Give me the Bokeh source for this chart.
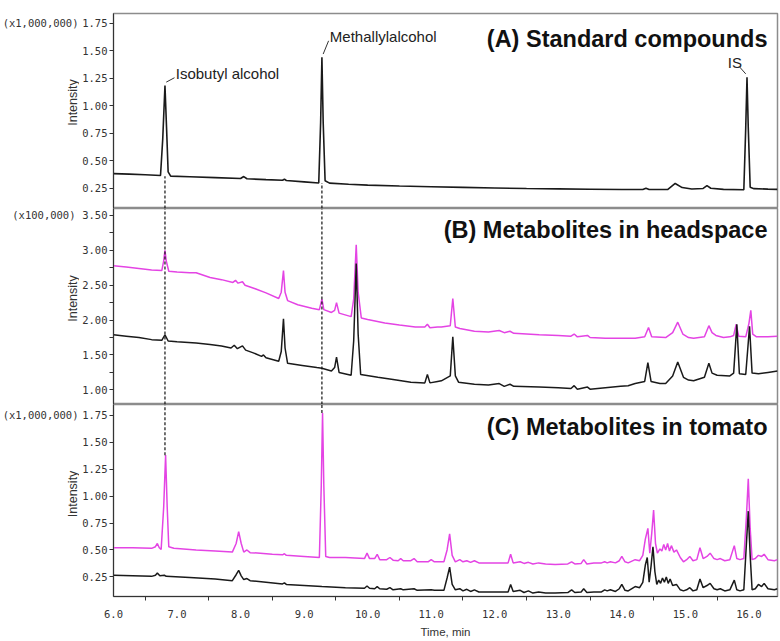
from bokeh.plotting import figure
from bokeh.layouts import column, row
from bokeh.models import Range1d, FixedTicker, PrintfTickFormatter, Label
from bokeh.core.properties import value
from bokeh.embed import file_html
from bokeh.resources import INLINE
import math

# ---------------- data ----------------
# Panel A: standard compounds (x1,000,000)
a_time = [6.00, 6.25, 6.50, 6.74, 6.775, 6.81, 6.835, 6.86, 6.90, 7.20, 7.60, 8.00, 8.05, 8.10,
          8.40, 8.66, 8.69, 8.72, 9.00, 9.23, 9.26, 9.28, 9.30, 9.33, 9.40, 9.70, 10.0, 10.5,
          11.0, 11.5, 12.0, 12.5, 13.0, 13.5, 14.0, 14.33, 14.38, 14.43, 14.72, 14.84, 14.95,
          15.10, 15.28, 15.34, 15.40, 15.60, 15.92, 15.95, 15.97, 15.99, 16.02, 16.08, 16.30, 16.45]
a_int = [0.385, 0.380, 0.374, 0.368, 0.70, 1.185, 0.80, 0.40, 0.362, 0.356, 0.348, 0.340, 0.358, 0.338,
         0.330, 0.324, 0.334, 0.322, 0.310, 0.300, 0.85, 1.44, 0.85, 0.32, 0.298, 0.288, 0.280, 0.272,
         0.266, 0.260, 0.254, 0.249, 0.246, 0.243, 0.240, 0.240, 0.252, 0.240, 0.240, 0.295, 0.258,
         0.245, 0.250, 0.275, 0.252, 0.242, 0.238, 0.80, 1.26, 0.80, 0.26, 0.248, 0.244, 0.242]

# Panel B: metabolites in headspace (x100,000)
b_mag_time = [6.00, 6.20, 6.40, 6.60, 6.76, 6.79, 6.81, 6.83, 6.87, 7.00, 7.20, 7.30, 7.52, 7.70,
              7.88, 7.92, 7.96, 8.03, 8.07, 8.23, 8.40, 8.60, 8.64, 8.675, 8.70, 8.74, 8.90, 9.12,
              9.24, 9.28, 9.31, 9.43, 9.48, 9.51, 9.55, 9.74, 9.78, 9.82, 9.85, 9.90, 10.0, 10.27,
              10.50, 10.75, 10.90, 10.94, 10.98, 11.10, 11.16, 11.30, 11.34, 11.38, 11.45, 11.68,
              11.90, 12.07, 12.15, 12.24, 12.30, 12.70, 13.00, 13.20, 13.25, 13.30, 13.46, 13.50,
              13.74, 14.00, 14.21, 14.36, 14.42, 14.47, 14.69, 14.80, 14.88, 14.96, 15.05, 15.13,
              15.30, 15.37, 15.42, 15.48, 15.60, 15.70, 15.76, 15.80, 15.84, 15.95, 16.00, 16.03,
              16.06, 16.12, 16.30, 16.45]
b_mag_int = [2.78, 2.76, 2.74, 2.72, 2.71, 2.85, 3.00, 2.85, 2.70, 2.69, 2.68, 2.68, 2.61, 2.58,
             2.54, 2.57, 2.53, 2.55, 2.50, 2.45, 2.39, 2.31, 2.40, 2.71, 2.40, 2.28, 2.22, 2.17,
             2.15, 2.30, 2.15, 2.11, 2.14, 2.25, 2.10, 2.05, 2.30, 3.08, 2.40, 2.03, 2.01, 1.96,
             1.93, 1.90, 1.90, 1.94, 1.89, 1.90, 1.90, 1.92, 2.31, 1.90, 1.88, 1.84,
             1.83, 1.85, 1.82, 1.84, 1.81, 1.79, 1.78, 1.77, 1.80, 1.76, 1.78, 1.75,
             1.74, 1.74, 1.74, 1.76, 1.895, 1.76, 1.75, 1.82, 1.97, 1.80, 1.75, 1.74,
             1.76, 1.92, 1.82, 1.78, 1.75, 1.76, 1.78, 1.94, 1.77, 1.76, 1.95, 2.14,
             1.80, 1.76, 1.76, 1.77]
b_blk_time = [6.00, 6.20, 6.40, 6.60, 6.76, 6.81, 6.86, 7.00, 7.30, 7.52, 7.70, 7.85, 7.90, 7.95,
              8.03, 8.08, 8.20, 8.33, 8.36, 8.40, 8.60, 8.64, 8.675, 8.70, 8.74, 8.97, 9.20, 9.28,
              9.43, 9.48, 9.51, 9.55, 9.74, 9.78, 9.82, 9.85, 9.89, 10.16, 10.40, 10.68, 10.90,
              10.94, 10.98, 11.10, 11.16, 11.30, 11.34, 11.38, 11.43, 11.68, 11.90, 12.07, 12.15,
              12.24, 12.30, 12.70, 13.00, 13.20, 13.25, 13.30, 13.46, 13.50, 13.74, 13.98, 14.10,
              14.21, 14.36, 14.41, 14.46, 14.60, 14.69, 14.80, 14.88, 14.97, 15.05, 15.13, 15.30,
              15.37, 15.42, 15.50, 15.70, 15.76, 15.81, 15.85, 15.95, 16.01, 16.05, 16.15, 16.30, 16.45]
b_blk_int = [1.79, 1.77, 1.75, 1.72, 1.71, 1.79, 1.70, 1.69, 1.67, 1.65, 1.63, 1.60, 1.64, 1.59,
             1.63, 1.57, 1.53, 1.48, 1.50, 1.46, 1.41, 1.55, 2.02, 1.60, 1.38, 1.35, 1.32, 1.31,
             1.27, 1.32, 1.47, 1.25, 1.21, 1.70, 2.81, 1.80, 1.22, 1.18, 1.15, 1.11, 1.10,
             1.22, 1.10, 1.12, 1.13, 1.20, 1.76, 1.20, 1.11, 1.08, 1.07, 1.09, 1.05,
             1.08, 1.05, 1.04, 1.03, 1.02, 1.06, 1.01, 1.04, 1.01, 1.03, 1.05, 1.06,
             1.09, 1.12, 1.39, 1.12, 1.09, 1.09, 1.20, 1.40, 1.18, 1.14, 1.13, 1.18,
             1.38, 1.24, 1.21, 1.20, 1.24, 1.94, 1.23, 1.22, 1.91, 1.24, 1.23, 1.25, 1.27]

# Panel C: metabolites in tomato (x1,000,000)
c_mag_time = [6.00, 6.30, 6.60, 6.66, 6.69, 6.72, 6.75, 6.79, 6.82, 6.845, 6.87, 6.95, 7.30, 7.60,
              7.87, 7.93, 7.97, 8.01, 8.05, 8.10, 8.15, 8.31, 8.50, 8.66, 8.69, 8.72, 9.00, 9.24,
              9.27, 9.29, 9.31, 9.34, 9.40, 9.65, 9.95, 9.99, 10.03, 10.11, 10.15, 10.19, 10.30,
              10.35, 10.40, 10.48, 10.52, 10.56, 10.68, 10.73, 10.78, 10.95, 11.00, 11.05, 11.20,
              11.25, 11.29, 11.33, 11.38, 11.45, 11.50, 11.56, 11.62, 11.68, 11.75, 11.95, 12.21,
              12.25, 12.29, 12.40, 12.46, 12.53, 12.60, 12.69, 12.80, 12.95, 13.15, 13.21, 13.26,
              13.36, 13.40, 13.45, 13.56, 13.68, 13.73, 13.77, 13.82, 13.90, 13.96, 14.00, 14.05,
              14.10, 14.21, 14.28, 14.33, 14.37, 14.41, 14.44, 14.47, 14.50, 14.53, 14.56, 14.60,
              14.63, 14.66, 14.69, 14.72, 14.75, 14.78, 14.82, 14.86, 14.92, 14.97, 15.02, 15.07,
              15.12, 15.18, 15.23, 15.28, 15.34, 15.39, 15.45, 15.50, 15.55, 15.62, 15.70, 15.77,
              15.81, 15.86, 15.92, 15.96, 15.99, 16.02, 16.05, 16.10, 16.15, 16.20, 16.24, 16.30,
              16.40, 16.45]
c_mag_int = [0.52, 0.52, 0.515, 0.53, 0.56, 0.52, 0.505, 0.90, 1.38, 0.90, 0.53, 0.515, 0.50, 0.49,
             0.48, 0.56, 0.67, 0.56, 0.48, 0.50, 0.475, 0.47, 0.46, 0.455, 0.465, 0.45, 0.44, 0.43,
             1.10, 1.77, 1.10, 0.44, 0.43, 0.43, 0.42, 0.47, 0.42, 0.42, 0.46, 0.41, 0.41,
             0.43, 0.405, 0.40, 0.42, 0.40, 0.40, 0.42, 0.39, 0.39, 0.41, 0.39, 0.39,
             0.50, 0.65, 0.45, 0.39, 0.41, 0.39, 0.40, 0.385, 0.40, 0.38, 0.38, 0.38,
             0.46, 0.38, 0.39, 0.375, 0.385, 0.37, 0.38, 0.37, 0.365, 0.37, 0.39, 0.37,
             0.375, 0.41, 0.37, 0.38, 0.38, 0.39, 0.38, 0.39, 0.38, 0.40, 0.44, 0.39,
             0.38, 0.41, 0.40, 0.45, 0.60, 0.70, 0.47, 0.65, 0.87, 0.56, 0.47, 0.51,
             0.49, 0.55, 0.50, 0.56, 0.49, 0.54, 0.48, 0.50, 0.43, 0.39, 0.41, 0.44,
             0.40, 0.41, 0.52, 0.42, 0.44, 0.47, 0.42, 0.41, 0.42, 0.40, 0.41, 0.54,
             0.42, 0.41, 0.42, 0.80, 1.16, 0.70, 0.41, 0.42, 0.45, 0.44, 0.46, 0.41,
             0.40, 0.41]
c_blk_time = [6.00, 6.30, 6.60, 6.66, 6.69, 6.73, 6.80, 6.83, 7.20, 7.60, 7.87, 7.93, 7.97, 8.01,
              8.05, 8.10, 8.15, 8.40, 8.66, 8.69, 8.72, 9.00, 9.28, 9.65, 9.95, 9.99, 10.03, 10.11,
              10.15, 10.19, 10.30, 10.35, 10.40, 10.52, 10.56, 10.73, 10.78, 11.00, 11.05, 11.20,
              11.25, 11.29, 11.33, 11.38, 11.45, 11.50, 11.56, 11.62, 11.68, 11.75, 11.95, 12.21,
              12.25, 12.29, 12.40, 12.46, 12.53, 12.60, 12.69, 12.80, 12.95, 13.15, 13.21, 13.26,
              13.36, 13.40, 13.45, 13.56, 13.68, 13.73, 13.77, 13.82, 13.90, 13.96, 14.00, 14.05,
              14.10, 14.21, 14.28, 14.33, 14.37, 14.40, 14.43, 14.46, 14.49, 14.52, 14.55, 14.58,
              14.61, 14.64, 14.67, 14.70, 14.73, 14.76, 14.80, 14.86, 14.92, 14.97, 15.02, 15.07,
              15.12, 15.18, 15.23, 15.28, 15.34, 15.39, 15.45, 15.50, 15.55, 15.62, 15.70, 15.77,
              15.81, 15.86, 15.92, 15.96, 15.99, 16.02, 16.05, 16.10, 16.15, 16.20, 16.24, 16.30,
              16.40, 16.45]
c_blk_int = [0.265, 0.26, 0.255, 0.265, 0.285, 0.26, 0.265, 0.255, 0.245, 0.23, 0.215, 0.27, 0.31, 0.26,
             0.225, 0.235, 0.215, 0.20, 0.185, 0.195, 0.18, 0.17, 0.16, 0.15, 0.145, 0.165, 0.145, 0.14,
             0.16, 0.14, 0.135, 0.15, 0.13, 0.14, 0.13, 0.14, 0.125, 0.13, 0.125, 0.125,
             0.24, 0.34, 0.18, 0.13, 0.14, 0.12, 0.135, 0.115, 0.13, 0.11, 0.11, 0.11,
             0.18, 0.115, 0.125, 0.105, 0.12, 0.10, 0.11, 0.10, 0.10, 0.105, 0.13, 0.105,
             0.11, 0.14, 0.105, 0.11, 0.11, 0.13, 0.12, 0.13, 0.115, 0.14, 0.18, 0.125,
             0.12, 0.16, 0.15, 0.20, 0.36, 0.43, 0.20, 0.35, 0.53, 0.30, 0.18, 0.22,
             0.19, 0.24, 0.20, 0.25, 0.19, 0.23, 0.17, 0.18, 0.13, 0.12, 0.13, 0.15,
             0.12, 0.13, 0.23, 0.15, 0.17, 0.19, 0.14, 0.13, 0.14, 0.12, 0.13, 0.22,
             0.13, 0.12, 0.13, 0.55, 0.86, 0.45, 0.13, 0.14, 0.18, 0.16, 0.19, 0.14,
             0.13, 0.14]

# retention times of the reference compounds (dashed guides)
guide_rt = [6.81, 9.28]
guide_a_top = [0.36, 0.30]      # baseline below peaks in A
guide_c_bottom = [1.38, 1.77]   # peak tops in C

# compound labels in panel A
peak_names = ["Isobutyl alcohol", "Methallylalcohol", "IS"]
peak_rt = [6.81, 9.28, 15.97]
peak_top = [1.185, 1.44, 1.26]

panel_titles = ["(A) Standard compounds", "(B) Metabolites in headspace", "(C) Metabolites in tomato"]
scale_texts = ["(x1,000,000)", "(x100,000)", "(x1,000,000)"]

ticks_a = [0.25, 0.50, 0.75, 1.00, 1.25, 1.50, 1.75]
ticks_b = [1.00, 1.50, 2.00, 2.50, 3.00, 3.50]
ticks_b_minor = [1.25, 1.75, 2.25, 2.75, 3.25]
ticks_x = [6.0, 7.0, 8.0, 9.0, 10.0, 11.0, 12.0, 13.0, 14.0, 15.0, 16.0]
ticks_x_minor = [6.5, 7.5, 8.5, 9.5, 10.5, 11.5, 12.5, 13.5, 14.5, 15.5, 16.5]

# ---------------- styling ----------------
BLACK = "#1a1a1a"
MAGENTA = "#e444e4"
MONO = "DejaVu Sans Mono"
SANS = "Liberation Sans"
LEFT_W = 79        # width of the side-text strip
MAIN_W = 700       # width of each chart figure
AXIS_W = 32        # left border of the chart figure (ticks + tick labels)

xr = Range1d(6.0, 16.45)


def make_fig(height, yr, top, bottom, with_x):
    p = figure(width=MAIN_W, height=height, x_range=xr, y_range=yr,
               output_backend="svg", toolbar_location=None,
               min_border_left=AXIS_W, min_border_right=2,
               min_border_top=top, min_border_bottom=bottom,
               x_axis_location="below" if with_x else None)
    p.grid.visible = False
    p.outline_line_color = "#8c8c8c"
    p.outline_line_width = 1.5
    ax = p.yaxis[0]
    ax.axis_line_color = "#333333"
    ax.major_tick_line_color = "#333333"
    ax.minor_tick_line_color = "#333333"
    ax.major_tick_out = 4
    ax.major_tick_in = 0
    ax.minor_tick_out = 4
    ax.minor_tick_in = 0
    ax.major_label_standoff = 2
    ax.major_label_text_font = MONO
    ax.major_label_text_font_size = "10.5px"
    ax.major_label_text_color = "#333333"
    ax.formatter = PrintfTickFormatter(format="%.2f")
    return p


def make_side(height, yr, top, bottom, idx, ytop, ymid, xright):
    s = figure(width=LEFT_W, height=height, x_range=Range1d(0, LEFT_W), y_range=yr,
               output_backend="svg", toolbar_location=None,
               min_border_left=0, min_border_right=0,
               min_border_top=top, min_border_bottom=bottom,
               x_axis_location=None, y_axis_location=None)
    s.grid.visible = False
    s.outline_line_color = None
    s.text(x=[xright], y=[ytop], text=[scale_texts[idx]], text_align="right",
           text_baseline="middle", text_font=value(MONO), text_font_size=value("10.5px"),
           text_color="#333333")
    s.text(x=[72], y=[ymid], text=["Intensity"], angle=math.pi / 2, text_align="center",
           text_baseline="middle", text_font=value(SANS), text_font_size=value("12.5px"),
           text_color="#333333")
    return s


def add_title(p, idx, y):
    p.add_layout(Label(x=16.45, y=y, x_offset=-10, text=panel_titles[idx], text_align="right",
                       text_baseline="middle", text_font=SANS, text_font_style="bold",
                       text_font_size="23.5px", text_color="#111111"))


GUIDE = dict(line_color="#111111", line_width=1.2, line_dash="3 2")

# ---------- Panel A ----------
yr_a = Range1d(0.068, 1.838)
pa = make_fig(208, yr_a, 13, 0, False)
pa.yaxis[0].ticker = FixedTicker(ticks=ticks_a, minor_ticks=[])
pa.line(a_time, a_int, line_color=BLACK, line_width=1.6)
pa.segment(x0=guide_rt, y0=[0.068, 0.068], x1=guide_rt, y1=guide_a_top, **GUIDE)
add_title(pa, 0, 1.61)
lab_dx = [0.17, 0.125, -0.13]
lab_dy = [0.07, 0.15, 0.135]
for name, rt, top, dx, dy in zip(peak_names, peak_rt, peak_top, lab_dx, lab_dy):
    if dx > 0:
        pa.segment(x0=[rt + 0.02], y0=[top + 0.03], x1=[rt + dx - 0.02], y1=[top + dy],
                   line_color="#333333", line_width=1)
        pa.add_layout(Label(x=rt + dx, y=top + dy + 0.04, text=name, text_align="left",
                            text_baseline="middle", text_font=SANS, text_font_size="15px",
                            text_color="#222222"))
    else:
        pa.segment(x0=[rt - 0.02], y0=[top + 0.03], x1=[rt + dx + 0.01], y1=[top + dy - 0.04],
                   line_color="#333333", line_width=1)
        pa.add_layout(Label(x=rt + dx - 0.06, y=top + dy, text=name, text_align="center",
                            text_baseline="middle", text_font=SANS, text_font_size="15px",
                            text_color="#222222"))
sa = make_side(208, yr_a, 13, 0, 0, 1.75, 1.03, 78)

# ---------- Panel B ----------
yr_b = Range1d(0.79, 3.60)
pb = make_fig(196, yr_b, 0, 0, False)
pb.yaxis[0].ticker = FixedTicker(ticks=ticks_b, minor_ticks=ticks_b_minor)
pb.line(b_mag_time, b_mag_int, line_color=MAGENTA, line_width=1.5)
pb.line(b_blk_time, b_blk_int, line_color=BLACK, line_width=1.5)
pb.segment(x0=guide_rt, y0=[0.79, 0.79], x1=guide_rt, y1=[3.60, 3.60], **GUIDE)
add_title(pb, 1, 3.285)
sb = make_side(196, yr_b, 0, 0, 1, 3.50, 2.31, 75)

# ---------- Panel C ----------
yr_c = Range1d(0.068, 1.85)
pc = make_fig(236, yr_c, 0, 40, True)
pc.yaxis[0].ticker = FixedTicker(ticks=ticks_a, minor_ticks=[])
pc.line(c_mag_time, c_mag_int, line_color=MAGENTA, line_width=1.5)
pc.line(c_blk_time, c_blk_int, line_color=BLACK, line_width=1.5)
pc.segment(x0=guide_rt, y0=guide_c_bottom, x1=guide_rt, y1=[1.85, 1.85], **GUIDE)
add_title(pc, 2, 1.644)
xa = pc.xaxis[0]
xa.ticker = FixedTicker(ticks=ticks_x, minor_ticks=ticks_x_minor)
xa.formatter = PrintfTickFormatter(format="%.1f")
xa.axis_line_color = "#333333"
xa.major_tick_out = 0
xa.major_tick_in = 0
xa.minor_tick_out = 4
xa.minor_tick_in = 0
xa.minor_tick_line_color = "#333333"
xa.major_label_standoff = 9
xa.major_label_text_font = MONO
xa.major_label_text_font_size = "10.5px"
xa.major_label_text_color = "#333333"
xa.axis_label = "Time, min"
xa.axis_label_text_font = SANS
xa.axis_label_text_font_style = "normal"
xa.axis_label_text_font_size = "11.5px"
xa.axis_label_text_color = "#333333"
xa.axis_label_standoff = 5
sc = make_side(236, yr_c, 0, 40, 2, 1.75, 1.02, 78)

layout = column(row(sa, pa, spacing=0), row(sb, pb, spacing=0), row(sc, pc, spacing=0), spacing=0)
open("out.html", "w").write(file_html(layout, INLINE))
